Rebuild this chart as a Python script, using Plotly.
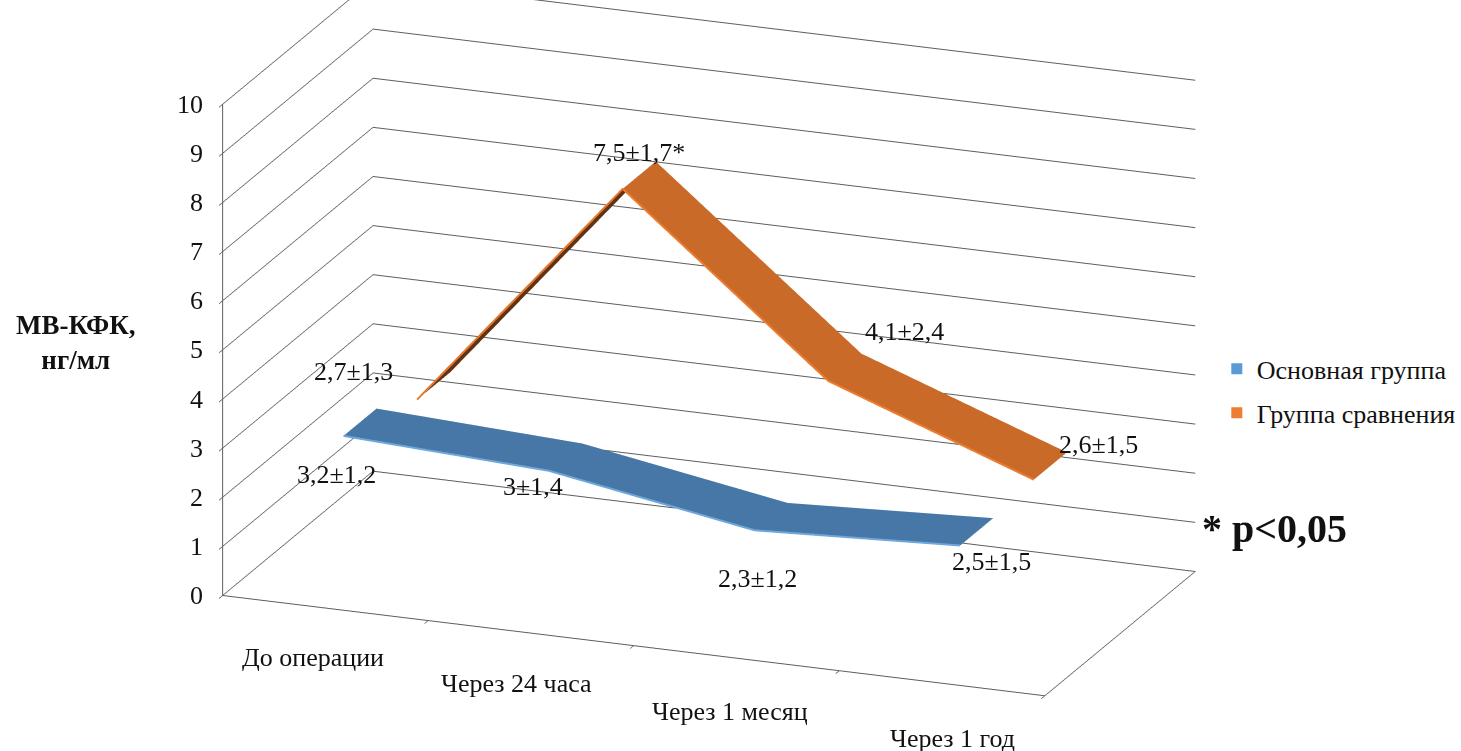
import plotly.graph_objects as go

# ---- data ----
categories = ["До операции", "Через 24 часа", "Через 1 месяц", "Через 1 год"]
series_names = ["Основная группа", "Группа сравнения"]
main_values = [3.2, 3.0, 2.3, 2.5]
comparison_values = [2.7, 7.5, 4.1, 2.6]
main_labels = ["3,2±1,2", "3±1,4", "2,3±1,2", "2,5±1,5"]
comparison_labels = ["2,7±1,3", "7,5±1,7*", "4,1±2,4", "2,6±1,5"]
value_ticks = list(range(0, 11))

# ---- styling ----
FONT = "Liberation Serif"
INK = "#111111"
GRID = "#5e5e5e"
BLUE_TOP, BLUE_SHADE, BLUE_EDGE, BLUE_KEY = "#4777a6", "#3b6690", "#6fa8dc", "#5b9bd5"
ORANGE_TOP, ORANGE_SHADE, ORANGE_EDGE, ORANGE_KEY = "#c96a29", "#623312", "#ed7d31", "#ed7d31"

# depth slots of the two ribbons along the series axis
MAIN_DEPTH = (0.12, 0.34)
COMP_DEPTH = (0.61, 0.83)

# label offsets in pixels (dx, dy) relative to each point
main_shifts = [(-24, -52), (-33, -29), (-14, -62), (15, -30)]
comp_shifts = [(-80, 14), (0, 23), (60, 36), (48, 22)]
category_shifts = [(-12, -49), (-14, -50), (-7, -53), (10, -55)]


def ribbon(values, depth, top, shade, edge):
    y0, y1 = depth
    xs, ys, zs = [], [], []
    for i, v in enumerate(values):
        xs += [i, i]
        ys += [y0, y1]
        zs += [v, v]
    ii, jj, kk, colors = [], [], [], []
    for s in range(len(values) - 1):
        a0, a1, b0, b1 = 2 * s, 2 * s + 1, 2 * s + 2, 2 * s + 3
        # a steep climb shows the darker underside of the strip
        c = shade if values[s + 1] - values[s] > 2 else top
        ii += [a0, a1]
        jj += [a1, b1]
        kk += [b0, b0]
        colors += [c, c]
    mesh = go.Mesh3d(
        x=xs, y=ys, z=zs, i=ii, j=jj, k=kk, facecolor=colors,
        flatshading=True,
        lighting=dict(ambient=1.0, diffuse=0.0, specular=0.0, roughness=1.0, fresnel=0.0),
        hoverinfo="skip", showlegend=False, showscale=False,
    )
    rim = go.Scatter3d(
        x=list(range(len(values))), y=[y0] * len(values), z=values,
        mode="lines", line=dict(color=edge, width=4),
        hoverinfo="skip", showlegend=False,
    )
    return [mesh, rim]


fig = go.Figure()
for tr in ribbon(main_values, MAIN_DEPTH, BLUE_TOP, BLUE_SHADE, BLUE_EDGE):
    fig.add_trace(tr)
for tr in ribbon(comparison_values, COMP_DEPTH, ORANGE_TOP, ORANGE_SHADE, ORANGE_EDGE):
    fig.add_trace(tr)

# legend keys
for name, col in zip(series_names, [BLUE_KEY, ORANGE_KEY]):
    fig.add_trace(go.Scatter3d(
        x=[None], y=[None], z=[None], mode="markers", name=name, legendgroup=name,
        marker=dict(symbol="square", size=11, color=col),
        hoverinfo="skip",
    ))

label_font = dict(family=FONT, size=26, color=INK)
annotations = []

# value labels next to each point
for depth, vals, labels, shifts in [
    (MAIN_DEPTH, main_values, main_labels, main_shifts),
    (COMP_DEPTH, comparison_values, comparison_labels, comp_shifts),
]:
    ymid = (depth[0] + depth[1]) / 2
    for i, (v, t, (dx, dy)) in enumerate(zip(vals, labels, shifts)):
        annotations.append(dict(
            x=i, y=ymid, z=v, text=t, showarrow=False,
            xshift=dx, yshift=dy, font=label_font,
        ))

# value axis labels, kept upright beside the front-left edge
for v in value_ticks:
    annotations.append(dict(
        x=-0.5, y=0, z=v, text=str(v), showarrow=False,
        xanchor="right", xshift=-18, font=label_font,
    ))

# category labels under the front floor edge
for i, (name, (dx, dy)) in enumerate(zip(categories, category_shifts)):
    annotations.append(dict(
        x=i, y=0, z=0, text=name, showarrow=False,
        xshift=dx, yshift=dy, font=label_font,
    ))

hidden_tick_font = dict(family=FONT, size=10, color="rgba(0,0,0,0)")
axis_common = dict(
    showbackground=False, showspikes=False, title=dict(text=""),
    gridcolor=GRID, gridwidth=2, linecolor=GRID, linewidth=2, zeroline=False,
)

fig.update_layout(
    width=1461, height=751,
    paper_bgcolor="white",
    margin=dict(l=0, r=0, t=0, b=0),
    font=dict(family=FONT, color=INK),
    scene=dict(
        domain=dict(x=[0.0, 1.0], y=[0.0, 1.0]),
        xaxis=dict(
            axis_common, range=[-0.5, 3.5],
            tickvals=[k - 0.5 for k in range(len(categories) + 1)],
            ticktext=[" "] * (len(categories) + 1),
            showticklabels=True, tickfont=hidden_tick_font,
            showgrid=False, showline=True, ticks="outside", ticklen=8,
            tickcolor=GRID, tickwidth=2,
        ),
        yaxis=dict(
            axis_common, range=[0, 1], showgrid=False, showline=True, ticks="",
            showticklabels=False,
        ),
        zaxis=dict(
            axis_common, range=[0, 10], tickvals=value_ticks,
            ticktext=[" "] * len(value_ticks),
            showticklabels=True, tickfont=hidden_tick_font, showgrid=True,
            showline=True, ticks="outside", ticklen=8, tickcolor=GRID, tickwidth=2,
        ),
        aspectmode="manual",
        aspectratio=dict(x=2.3456, y=1.1169, z=1.3797),
        camera=dict(
            eye=dict(x=0.7427, y=-1.7804, z=0.5400),
            center=dict(x=0.0625, y=-0.0100, z=-0.0950),
            up=dict(x=0, y=0, z=1),
            projection=dict(type="orthographic"),
        ),
        annotations=annotations,
    ),
    legend=dict(
        x=0.834, y=0.54, xanchor="left", yanchor="top",
        font=dict(family=FONT, size=26, color=INK),
        tracegroupgap=7, itemwidth=30,
    ),
    annotations=[
        dict(text="<b>МВ-КФК,<br>нг/мл</b>", x=76, y=342, xref="paper", yref="paper",
             xanchor="center", yanchor="middle",
             showarrow=False, font=dict(family=FONT, size=27, color=INK)),
        dict(text="<b>* p<0,05</b>", x=1276, y=528, xref="paper", yref="paper",
             xanchor="center", yanchor="middle",
             showarrow=False, font=dict(family=FONT, size=40, color=INK)),
    ],
)

# paper annotations above are given in pixels; convert to paper fractions
for ann in fig.layout.annotations:
    ann.x = ann.x / 1461
    ann.y = 1 - ann.y / 751

fig.write_html("out.html")
